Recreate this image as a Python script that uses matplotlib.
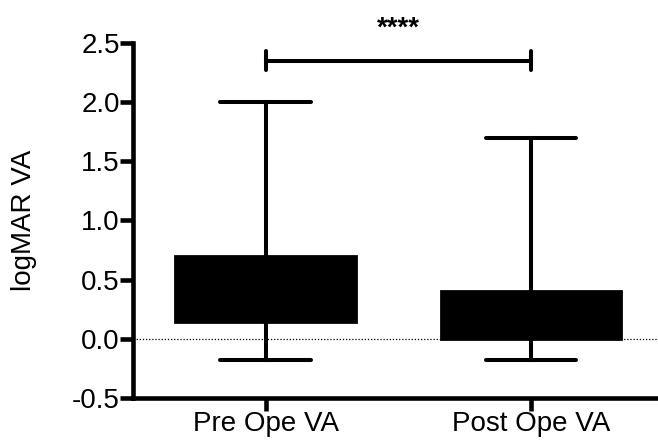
import matplotlib
matplotlib.use("Agg")
import matplotlib.pyplot as plt

plt.rcParams['font.family'] = ['Liberation Sans', 'DejaVu Sans']
plt.rcParams['axes.unicode_minus'] = False

# data
groups = ['Pre Ope VA', 'Post Ope VA']
whislo = [-0.18, -0.18]
q1 = [0.14, 0.0]
med = [0.4, 0.2]
q3 = [0.70, 0.40]
whishi = [2.0, 1.7]
yticks = [-0.5, 0.0, 0.5, 1.0, 1.5, 2.0, 2.5]
sig_label = '****'
sig_y = 2.35

stats = []
for i in range(len(groups)):
    stats.append({'label': groups[i], 'whislo': whislo[i], 'q1': q1[i],
                  'med': med[i], 'q3': q3[i], 'whishi': whishi[i]})

fig = plt.figure(figsize=(6.58, 4.42), dpi=100)
ax = fig.add_axes([0.202, 0.0995, 0.806, 0.8035])

ax.axhline(0, color='black', lw=0.9, ls=(0, (1, 1.5)), zorder=0)

ax.bxp(stats, positions=[1, 2], widths=0.68, patch_artist=True, showfliers=False,
       boxprops=dict(facecolor='black', edgecolor='black', linewidth=2),
       medianprops=dict(color='black', linewidth=2),
       whiskerprops=dict(color='black', linewidth=2.9),
       capprops=dict(color='black', linewidth=2.9, solid_capstyle='round'),
       capwidths=0.34)

# significance bracket
ax.plot([1, 2], [sig_y, sig_y], color='black', lw=2.9)
ax.plot([1, 1], [sig_y - 0.08, sig_y + 0.08], color='black', lw=2.9, solid_capstyle='round')
ax.plot([2, 2], [sig_y - 0.08, sig_y + 0.08], color='black', lw=2.9, solid_capstyle='round')
ax.text(1.5, sig_y + 0.16, sig_label, ha='center', va='bottom', fontsize=20, fontweight='bold')

ax.set_xlim(0.5, 2.5)
ax.set_ylim(-0.5, 2.5)
ax.set_yticks(yticks)
ax.set_yticklabels(['%.1f' % v for v in yticks])
ax.set_xticks([1, 2])
ax.set_xticklabels(groups)
ax.set_ylabel('logMAR VA', fontsize=20, labelpad=25)

for s in ['top', 'right']:
    ax.spines[s].set_visible(False)
for s in ['left', 'bottom']:
    ax.spines[s].set_linewidth(3.3)
ax.tick_params(axis='both', width=3.3, length=9.5, labelsize=20, pad=0)

fig.savefig('out.png', dpi=100)
